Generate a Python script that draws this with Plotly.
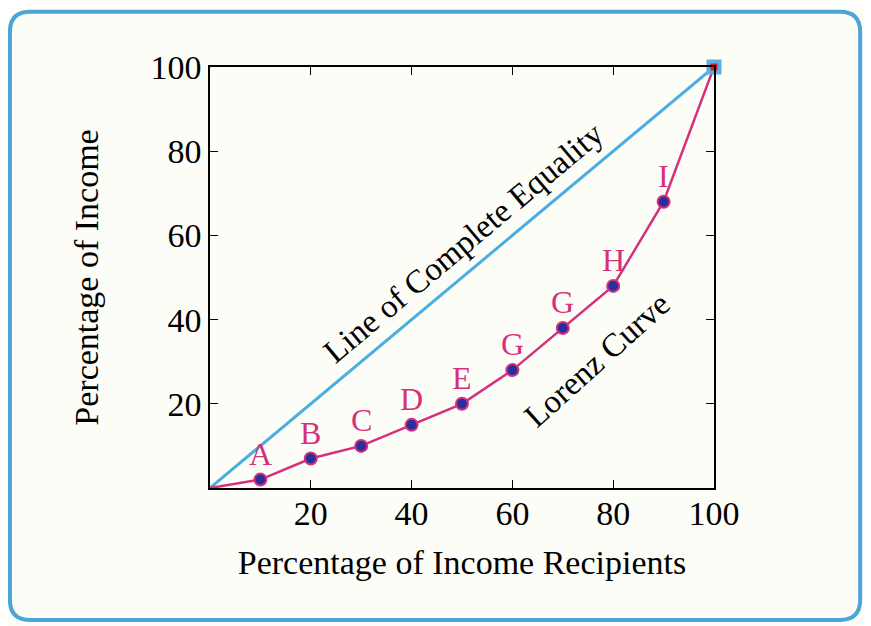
import plotly.graph_objects as go

# Lorenz curve points (percent of recipients, percent of income)
recipients = [0, 10, 20, 30, 40, 50, 60, 70, 80, 90, 100]
income = [0, 2, 7, 10, 15, 20, 28, 38, 48, 68, 100]
point_labels = ["A", "B", "C", "D", "E", "G", "G", "H", "I"]

equality_x = [0, 100]
equality_y = [0, 100]

tick_vals = [20, 40, 60, 80, 100]

SERIF = "Liberation Serif, Times New Roman, serif"
MAGENTA = "#d4307c"
BLUE_LINE = "#4aaee0"
BG = "#fdfdf7"

fig = go.Figure()

# Line of complete equality
fig.add_trace(go.Scatter(
    x=equality_x, y=equality_y, mode="lines",
    line=dict(color=BLUE_LINE, width=3),
    hoverinfo="skip", showlegend=False
))

# Lorenz curve
fig.add_trace(go.Scatter(
    x=recipients, y=income,
    mode="lines", line=dict(color=MAGENTA, width=2.5),
    hoverinfo="skip", showlegend=False
))
fig.add_trace(go.Scatter(
    x=recipients[1:-1], y=income[1:-1], mode="markers",
    marker=dict(size=12, color="#2b2f9e", line=dict(color=MAGENTA, width=2)),
    hoverinfo="skip", showlegend=False
))

# End point at (100, 100)
fig.add_trace(go.Scatter(
    x=[recipients[-1]], y=[income[-1]], mode="markers",
    marker=dict(size=15, symbol="square", color="#5ab2e2", line=dict(width=0)),
    hoverinfo="skip", showlegend=False, cliponaxis=False
))
fig.add_trace(go.Scatter(
    x=[recipients[-1]], y=[income[-1]], mode="markers",
    marker=dict(size=7, symbol="square", color="#e0201c", line=dict(width=0)),
    hoverinfo="skip", showlegend=False, cliponaxis=False
))

# Point letters
for lbl, xv, yv in zip(point_labels, recipients[1:-1], income[1:-1]):
    fig.add_annotation(
        x=xv, y=yv, text=lbl, showarrow=False, yshift=26,
        font=dict(family=SERIF, size=32, color=MAGENTA)
    )

fig.add_annotation(
    x=50.2, y=58.2, text="Line of Complete Equality", showarrow=False,
    textangle=-40, font=dict(family=SERIF, size=33, color="black")
)
fig.add_annotation(
    x=76.8, y=30.4, text="Lorenz Curve", showarrow=False,
    textangle=-42, font=dict(family=SERIF, size=33, color="black")
)

# Rounded frame around the whole figure (paper coordinates)
x0, x1 = -0.397, 1.290
y0, y1 = -0.3135, 1.131
rx, ry = 0.04, 0.048
frame = (
    f"M {x0 + rx},{y1} L {x1 - rx},{y1} Q {x1},{y1} {x1},{y1 - ry} "
    f"L {x1},{y0 + ry} Q {x1},{y0} {x1 - rx},{y0} "
    f"L {x0 + rx},{y0} Q {x0},{y0} {x0},{y0 + ry} "
    f"L {x0},{y1 - ry} Q {x0},{y1} {x0 + rx},{y1} Z"
)
fig.add_shape(type="path", path=frame, xref="paper", yref="paper",
              line=dict(color="#4ba5d8", width=4), layer="below")

axis_common = dict(
    range=[0, 100], tickvals=tick_vals, ticks="inside", ticklen=8,
    tickcolor="black", tickwidth=1, showline=True, linecolor="black",
    linewidth=1.5, mirror="ticks", showgrid=False, zeroline=False,
    tickfont=dict(family=SERIF, size=34, color="black"),
)

fig.update_xaxes(
    **axis_common,
    ticklabelstandoff=-6,
    title=dict(text="Percentage of Income Recipients", standoff=20,
               font=dict(family=SERIF, size=34, color="black")),
)
fig.update_yaxes(
    **axis_common,
    title=dict(text="Percentage of Income", standoff=42,
               font=dict(family=SERIF, size=34, color="black")),
)

# the page body has an 8px margin, so the figure is shrunk and shifted to match
fig.update_layout(
    width=863, height=618,
    margin=dict(l=202, r=157, t=59, b=138),
    paper_bgcolor=BG, plot_bgcolor=BG,
)

fig.write_html("out.html")
